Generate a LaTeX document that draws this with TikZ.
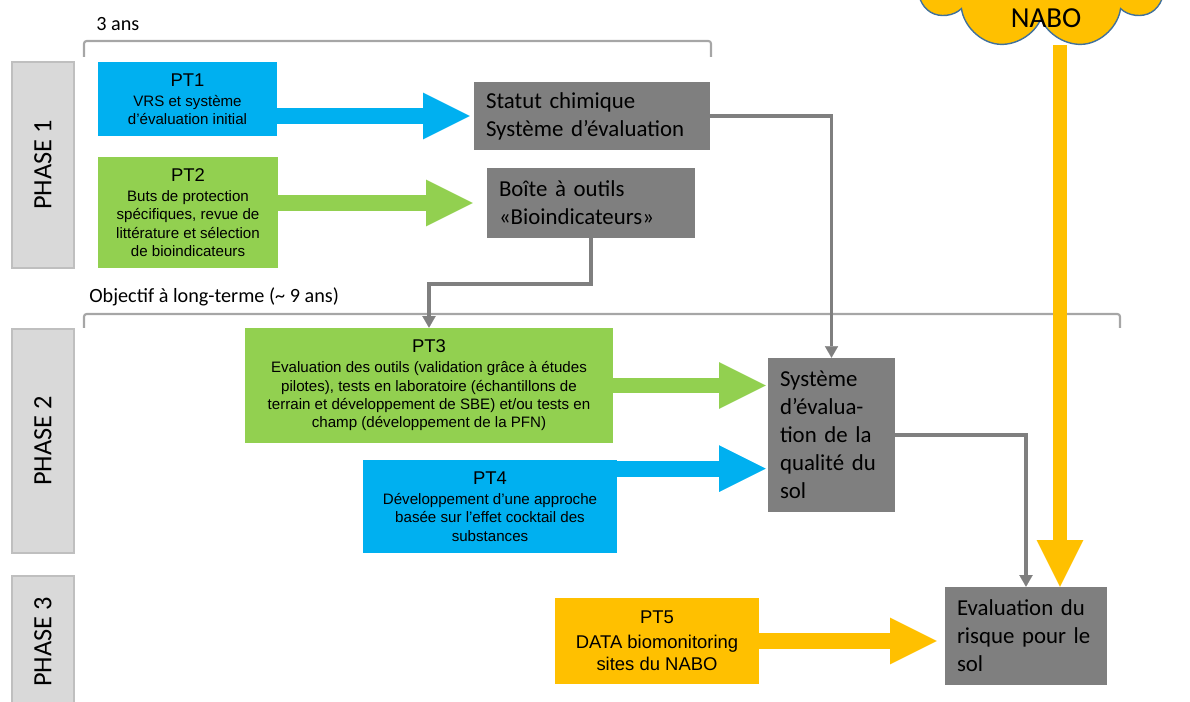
\documentclass[tikz,border=0pt]{standalone}
\usepackage{fontspec}
\setmainfont{Liberation Sans}
\newfontfamily\carlito{Carlito}
\usetikzlibrary{arrows.meta,shapes.symbols,calc}

\definecolor{ptblue}{HTML}{00B0F0}
\definecolor{ptgreen}{HTML}{92D050}
\definecolor{ptorange}{HTML}{FFC000}
\definecolor{boxgrey}{HTML}{7F7F7F}
\definecolor{phasefill}{HTML}{D9D9D9}
\definecolor{phaseline}{HTML}{BFBFBF}
\definecolor{bracketgrey}{HTML}{A6A6A6}
\definecolor{cloudline}{HTML}{41719C}

\newcommand{\pthead}[1]{{\fontsize{10.5}{12}\selectfont #1}\\[1pt]}

\begin{document}
\begin{tikzpicture}[x=0.02cm, y=-0.02cm,
  phasebox/.style={fill=phasefill, draw=phaseline, line width=0.6pt, rotate=90, minimum height=1.24cm, inner sep=0pt, font=\carlito\fontsize{15}{18}\selectfont},
  ptbox/.style={align=center, inner sep=0pt, font=\fontsize{8.6}{10.4}\selectfont},
  greybox/.style={fill=boxgrey, align=left, inner xsep=0.24cm, inner ysep=0pt, font=\carlito\fontsize{13}{15.9}\selectfont},
  duration/.style={anchor=west, inner sep=0pt, font=\carlito\fontsize{11.5}{14}\selectfont},
  bigarrow/.style={line width=9pt, -{Triangle[width=26.5pt, length=26.5pt, line width=0.01pt]}},
  linkarrow/.style={boxgrey, line width=2.2pt, -{Triangle[width=7.5pt, length=6.5pt, line width=0.01pt]}},
  bracket/.style={bracketgrey, line width=1.2pt, rounded corners=1.5pt}]

\useasboundingbox (0, 0) rectangle (1190, 702);
\clip (0, 0) rectangle (1190, 702);

% -------- Phases -----------
\node (phase1) [phasebox, minimum width=4.12cm] at (43, 165) {PHASE 1};
\node (phase2) [phasebox, minimum width=4.48cm] at (43, 441) {PHASE 2};
\node (phase3) [phasebox, minimum width=2.64cm] at (43, 642) {PHASE 3};

\node (dur1) [duration] at (96, 24) {3 ans};
\draw   [bracket]   (84, 57) |- (711, 41) -- (711, 57);
\node (dur2) [duration] at (89, 297) {Objectif à long-terme (\textasciitilde{} 9 ans)};
\draw   [bracket]   (84, 328) |- (1120, 314) -- (1120, 328);

% -------- PT boxes -----------
\node (pt1) [ptbox, fill=ptblue, minimum width=3.58cm, minimum height=1.48cm] at (187.5, 99)
  {\pthead{PT1}VRS et système\\d’évaluation initial};
\node (pt2) [ptbox, fill=ptgreen, minimum width=3.6cm, minimum height=2.22cm] at (188, 212.5)
  {\pthead{PT2}Buts de protection\\spécifiques, revue de\\littérature et sélection\\de bioindicateurs};
\node (pt3) [ptbox, fill=ptgreen, minimum width=7.36cm, minimum height=2.3cm] at (429, 385.5)
  {\pthead{PT3}Evaluation des outils (validation grâce à études\\pilotes), tests en laboratoire (échantillons de\\terrain et développement de SBE) et/ou tests en\\champ (développement de la PFN)};
\node (pt4) [ptbox, fill=ptblue, minimum width=5.08cm, minimum height=1.86cm] at (490, 506.5)
  {\pthead{PT4}Développement d’une approche\\basée sur l’effet cocktail des\\substances};
\node (pt5) [ptbox, fill=ptorange, minimum width=4.08cm, minimum height=1.72cm, font=\fontsize{10.5}{12.8}\selectfont] at (657, 641)
  {\pthead{PT5}DATA biomonitoring\\sites du NABO};

% -------- Results -----------
\node (statut) [greybox, text width=4.24cm, minimum height=1.36cm] at (592, 116) {Statut chimique\\Système d’évaluation};
\node (boite) [greybox, text width=3.68cm, minimum height=1.4cm] at (591, 203) {Boîte à outils\\«Bioindicateurs»};
\node (sys) [greybox, text width=2.06cm, minimum height=3.08cm] at (831.5, 435) {Système\\d’évalua-\\tion de la\\qualité du\\sol};
\node (eval) [greybox, text width=2.76cm, minimum height=1.96cm] at (1026, 636) {Evaluation du\\risque pour le\\sol};

% -------- Arrows -----------
\draw   [bigarrow, ptblue, shorten >=0.08cm]   (statut.west -| pt1.east) -- (statut.west);
\draw   [bigarrow, ptgreen, shorten >=0.28cm]   (boite.west -| pt2.east) -- (boite.west);
\draw   [bigarrow, ptgreen, shorten >=0.04cm]   (pt3.east) -- (pt3.east -| sys.west);
\draw   [bigarrow, ptblue, shorten >=0.04cm]   ($(pt4.north east)+(0, 9)$) -- ($(pt4.north east -| sys.west)+(0, 9)$);
\draw   [bigarrow, ptorange, shorten >=0.16cm]   (pt5.east) -- (pt5.east -| eval.west);

\draw   [linkarrow]   (statut.east) -| (sys.north);
\draw   [linkarrow]   (boite.south) -- ++(0, 46) -| (pt3.north);
\draw   [linkarrow]   (sys.east) -| (eval.north);

% NABO
\coordinate (nabofoot) at (1060, 45);
\draw   [bigarrow, ptorange, line width=8.5pt]   (nabofoot) -- (nabofoot |- eval.north);
\node (nabo) [cloud, cloud puffs=9, aspect=2, fill=ptorange, draw=cloudline, line width=0.8pt, minimum width=5.1cm, minimum height=2.9cm] at (1041, -24) {};
\node (nabotext) [font=\carlito\fontsize{16.5}{20}\selectfont] at (1046, 18) {NABO};

\end{tikzpicture}
\end{document}
